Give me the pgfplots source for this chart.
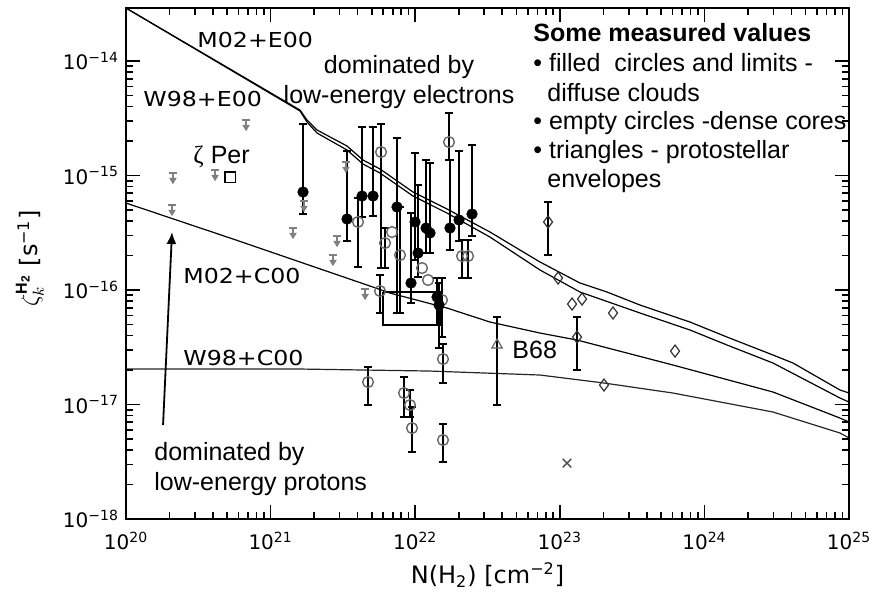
\documentclass[border=0pt]{standalone}
\usepackage{fontspec}
\setmainfont{Liberation Sans}
\newfontfamily\hfont{DejaVu Sans}
\newfontfamily\serfont{Liberation Serif}
\usepackage{graphicx}
\usepackage{pgfplots}
\pgfplotsset{compat=1.18}
\usetikzlibrary{arrows.meta}
\pgfdeclareplotmark{ulim}{%
 \pgfpathmoveto{\pgfqpoint{-\pgfplotmarksize}{0pt}}%
 \pgfpathlineto{\pgfqpoint{\pgfplotmarksize}{0pt}}%
 \pgfpathmoveto{\pgfqpoint{0pt}{0pt}}%
 \pgfpathlineto{\pgfqpoint{0pt}{-1.6\pgfplotmarksize}}%
 \pgfusepathqstroke
 \pgfpathmoveto{\pgfqpoint{-0.6\pgfplotmarksize}{-1.4\pgfplotmarksize}}%
 \pgfpathlineto{\pgfqpoint{0.6\pgfplotmarksize}{-1.4\pgfplotmarksize}}%
 \pgfpathlineto{\pgfqpoint{0pt}{-2.4\pgfplotmarksize}}%
 \pgfpathclose
 \pgfusepathqfillstroke}
\newcommand{\curvelab}[1]{\scalebox{1.15}[1]{\hfont\fontsize{10.3}{12}\selectfont #1}}
\newcommand{\annfont}{\fontsize{12.5}{15}\selectfont}
\newcommand{\expo}[1]{\pgfmathtruncatemacro{\myexp}{round(#1)}\ifnum\myexp<0 −\number\numexpr-\myexp\relax\else\myexp\fi}
\begin{document}
\begin{tikzpicture}
\path[use as bounding box] (-63pt,-38.5pt) rectangle (375pt,259.5pt);
\begin{axis}[
 scale only axis, width=361.5pt, height=255.5pt,
 xmode=log, ymode=log, log basis x=10, log basis y=10,
 xmin=1e20, xmax=1e25, ymin=1e-18, ymax=2.904e-14,
 axis on top,
 axis line style={line width=1pt},
 tick style={black, line width=0.8pt},
 major tick length=7pt, minor tick length=3.5pt,
 xticklabel={10\textsuperscript{\expo{\tick}}},
 yticklabel={10\textsuperscript{\expo{\tick}}},
 tick label style={font=\hfont\fontsize{10}{12}\selectfont},
 xticklabel style={yshift=-3pt},
 xlabel={N(H\textsubscript{2}) [cm\textsuperscript{−2}]},
 xlabel style={font=\hfont\fontsize{12}{14}\selectfont, at={(rel axis cs:0.5,-0.1096)}, anchor=center},
 ylabel={$\zeta_k^{\mathbf{H_2}}$ [s\textsuperscript{−1}]},
 ylabel style={font=\hfont\fontsize{12}{14}\selectfont, at={(rel axis cs:-0.133,0.51)}, anchor=center},
]
% M02+E00
\addplot[black, line width=0.6pt] coordinates {
(1e20,2.90e-14) (1.597e21,3.73e-15) (1.785e21,3.05e-15) (2.094e21,2.497e-15) (3.376e21,1.81e-15)
(4.355e21,1.366e-15) (5.709e21,1.14e-15) (9.656e21,7.175e-16) (1.659e22,5.10e-16) (3.291e22,3.21e-16)
(7.298e22,1.756e-16) (1.379e23,1.151e-16) (2.121e23,9.605e-17) (3.585e23,7.396e-17) (7.95e23,5.253e-17)
(1.433e24,3.886e-17) (2.981e24,2.706e-17) (4.1e24,2.303e-17) (8.66e24,1.339e-17) (1e25,1.26e-17)};
% W98+E00
\addplot[black, line width=0.6pt] coordinates {
(1e20,2.90e-14) (1.597e21,3.66e-15) (1.785e21,2.93e-15) (2.094e21,2.35e-15) (3.376e21,1.67e-15)
(4.355e21,1.26e-15) (5.709e21,1.051e-15) (9.656e21,6.62e-16) (1.659e22,4.70e-16) (3.291e22,2.90e-16)
(7.298e22,1.495e-16) (1.379e23,9.605e-17) (3.585e23,6.30e-17) (7.95e23,4.475e-17)
(1.433e24,3.31e-17) (2.981e24,2.303e-17) (8.66e24,1.14e-17) (1e25,1.051e-17)};
% M02+C00
\addplot[black, line width=0.6pt] coordinates {
(1e20,5.75e-16) (5.495e20,2.79e-16) (4.642e21,1.106e-16) (6.694e21,9.41e-17) (1.659e22,6.96e-17)
(3.291e22,5.253e-17) (7.298e22,4.21e-17) (1.315e23,3.66e-17) (6.065e23,2.213e-17) (2.981e24,1.286e-17)
(8.66e24,7.62e-18) (1e25,7.03e-18)};
% W98+C00
\addplot[black!85, line width=0.6pt] coordinates {
(1e20,2.042e-17) (1.597e21,2.042e-17) (1.266e22,1.961e-17) (7.298e22,1.81e-17) (2.021e23,1.541e-17)
(6.065e23,1.26e-17) (2.981e24,8.60e-18) (8.66e24,5.64e-18) (1e25,5.10e-18)};
% box
\addplot[black, line width=0.8pt] coordinates {
(5.99e21,9.60e-17) (1.485e22,9.60e-17) (1.485e22,4.94e-17) (5.99e21,4.94e-17) (5.99e21,9.60e-17)};
% error bars
\addplot[black, line width=0.9pt, mark=-, mark size=2pt, mark options={solid, line width=0.9pt}, unbounded coords=jump] table[row sep=\\] {
x y\\
1.675e21 4.61e-16\\ 1.675e21 2.818e-15\\ nan nan\\
3.376e21 2.68e-16\\ 3.376e21 1.637e-15\\ nan nan\\
4.287e21 4.34e-16\\ 4.287e21 2.653e-15\\ nan nan\\
5.107e21 4.43e-16\\ 5.107e21 2.653e-15\\ nan nan\\
7.48e21 6.30e-17\\ 7.48e21 2.126e-15\\ nan nan\\
9.97e21 1.828e-16\\ 9.97e21 1.572e-15\\ nan nan\\
1.188e22 2.104e-16\\ 1.188e22 1.366e-15\\ nan nan\\
1.266e22 2.104e-16\\ 1.266e22 1.286e-15\\ nan nan\\
1.046e22 1.299e-16\\ 1.046e22 8.26e-16\\ nan nan\\
9.35e21 7.70e-17\\ 9.35e21 4.70e-16\\ nan nan\\
1.740e22 2.235e-16\\ 1.740e22 1.366e-15\\ nan nan\\
2.009e22 2.68e-16\\ 2.009e22 1.637e-15\\ nan nan\\
2.47e22 2.96e-16\\ 2.47e22 1.847e-15\\ nan nan\\
1.415e22 4.94e-17\\ 1.415e22 1.273e-16\\ nan nan\\
1.461e22 3.115e-17\\ 1.461e22 1.151e-16\\ nan nan\\
4.02e21 1.588e-16\\ 4.02e21 6.36e-16\\ nan nan\\
5.80e21 1.556e-16\\ 5.80e21 2.818e-15\\ nan nan\\
6.18e21 1.556e-16\\ 6.18e21 3.48e-16\\ nan nan\\
7.85e21 6.30e-17\\ 7.85e21 5.31e-16\\ nan nan\\
5.709e21 6.30e-17\\ 5.709e21 1.352e-16\\ nan nan\\
1.712e22 1.366e-15\\ 1.712e22 3.515e-15\\ nan nan\\
2.107e22 1.273e-16\\ 2.107e22 2.734e-16\\ nan nan\\
2.318e22 1.273e-16\\ 2.318e22 2.734e-16\\ nan nan\\
1.556e22 1.541e-17\\ 1.556e22 3.375e-17\\ nan nan\\
4.716e21 9.90e-18\\ 4.716e21 2.126e-17\\ nan nan\\
8.365e21 7.78e-18\\ 8.365e21 1.739e-17\\ nan nan\\
9.20e21 7.78e-18\\ 9.20e21 1.339e-17\\ nan nan\\
9.50e21 3.85e-18\\ 9.50e21 9.51e-18\\ nan nan\\
1.556e22 3.15e-18\\ 1.556e22 6.76e-18\\ nan nan\\
1.532e22 3.886e-17\\ 1.532e22 1.273e-16\\ nan nan\\
8.29e22 2.02e-16\\ 8.29e22 5.87e-16\\ nan nan\\
1.315e23 2.00e-17\\ 1.315e23 5.81e-17\\ nan nan\\
3.68e22 9.90e-18\\ 3.68e22 5.81e-17\\
};
% upper limits
\addplot[only marks, mark=ulim, mark size=2pt, black!50, mark options={line width=0.8pt}] coordinates {
(2.11e20,1.051e-15) (2.08e20,5.53e-16) (6.76e20,3.05e-15) (4.13e20,1.117e-15) (1.70e21,5.99e-16)
(1.428e21,3.48e-16) (2.879e21,2.96e-16) (2.70e21,2.02e-16) (3.32e21,1.312e-15) (4.50e21,1.02e-16)};
% open circles (dense cores)
\addplot[only marks, mark=o, mark size=2.7pt, black!60, mark options={line width=0.7pt}] coordinates {
(4.02e21,3.93e-16) (5.80e21,1.604e-15) (6.18e21,2.57e-16) (7.85e21,2.02e-16) (5.709e21,9.80e-17)
(1.712e22,1.961e-15) (2.107e22,1.98e-16) (2.318e22,1.98e-16) (1.556e22,2.497e-17) (4.716e21,1.572e-17)
(8.365e21,1.26e-17) (9.20e21,9.90e-18) (9.50e21,6.23e-18) (1.556e22,4.90e-18) (1.532e22,8.18e-17)
(1.114e22,1.556e-16) (1.226e22,1.223e-16) (6.91e21,3.21e-16)};
% filled circles (diffuse clouds)
\addplot[only marks, mark=*, mark size=2.6pt, black] coordinates {
(1.675e21,7.175e-16) (3.376e21,4.17e-16) (4.287e21,6.62e-16) (5.107e21,6.62e-16) (7.48e21,5.31e-16)
(9.97e21,3.93e-16) (1.188e22,3.48e-16) (1.266e22,3.15e-16) (1.046e22,2.104e-16) (9.35e21,1.151e-16)
(1.740e22,3.48e-16) (2.009e22,4.09e-16) (2.47e22,4.61e-16) (1.415e22,8.69e-17) (1.461e22,7.40e-17)};
% diamonds
\addplot[only marks, mark=diamond, mark size=3pt, black!80, mark options={line width=0.6pt}] coordinates {
(8.29e22,3.93e-16) (9.72e22,1.273e-16) (1.215e23,7.55e-17) (1.424e23,8.34e-17) (2.333e23,6.30e-17)
(1.315e23,3.886e-17) (6.26e23,2.93e-17) (2.021e23,1.48e-17)};
% triangle B68
\addplot[only marks, mark=triangle, mark size=3pt, black!60, mark options={line width=0.6pt}] coordinates {(3.68e22,3.31e-17)};
% cross
\addplot[only marks, mark=x, mark size=3pt, black!70, mark options={line width=0.7pt}] coordinates {(1.121e23,3.08e-18)};
% zeta Per square
\addplot[only marks, mark=square, mark size=2.6pt, black, mark options={line width=0.7pt}] coordinates {(5.24e20,9.70e-16)};
% annotations
\node[anchor=base west, inner sep=0] at (rel axis cs:0.0982,0.9237) {\curvelab{M02+E00}};
\node[anchor=base west, inner sep=0] at (rel axis cs:0.0235,0.8063) {\curvelab{W98+E00}};
\node[anchor=base west, inner sep=0] at (rel axis cs:0.0788,0.4618) {\curvelab{M02+C00}};
\node[anchor=base west, inner sep=0] at (rel axis cs:0.0788,0.3014) {\curvelab{W98+C00}};
\node[anchor=base, inner sep=0, font=\annfont] at (rel axis cs:0.3776,0.8728) {dominated by};
\node[anchor=base, inner sep=0, font=\annfont] at (rel axis cs:0.3776,0.8141) {low-energy electrons};
\node[anchor=base west, inner sep=0, font=\annfont] at (rel axis cs:0.0387,0.1155) {dominated by};
\node[anchor=base west, inner sep=0, font=\annfont] at (rel axis cs:0.0387,0.0568) {low-energy protons};
\node[anchor=base west, inner sep=0, font=\annfont\bfseries] at (rel axis cs:0.5629,0.9335) {Some measured values};
\node[anchor=base west, inner sep=0, font=\annfont] at (rel axis cs:0.5629,0.8748) {• filled\ \ circles and limits -};
\node[anchor=base west, inner sep=0, font=\annfont] at (rel axis cs:0.5823,0.8180) {diffuse clouds};
\node[anchor=base west, inner sep=0, font=\annfont] at (rel axis cs:0.5629,0.7613) {• empty circles -dense cores};
\node[anchor=base west, inner sep=0, font=\annfont] at (rel axis cs:0.5629,0.7065) {• triangles - protostellar};
\node[anchor=base west, inner sep=0, font=\annfont] at (rel axis cs:0.5823,0.6497) {envelopes};
\node[anchor=base west, inner sep=0, font=\annfont] at (rel axis cs:0.5339,0.3151) {B68};
\node[anchor=base west, inner sep=0, font=\annfont] at (rel axis cs:0.0927,0.6967) {{\serfont ζ} Per};
\draw[-{Latex[length=6pt,width=5pt]}, line width=0.9pt] (rel axis cs:0.0512,0.1840) -- (rel axis cs:0.0636,0.5616);
\end{axis}
\end{tikzpicture}
\end{document}
